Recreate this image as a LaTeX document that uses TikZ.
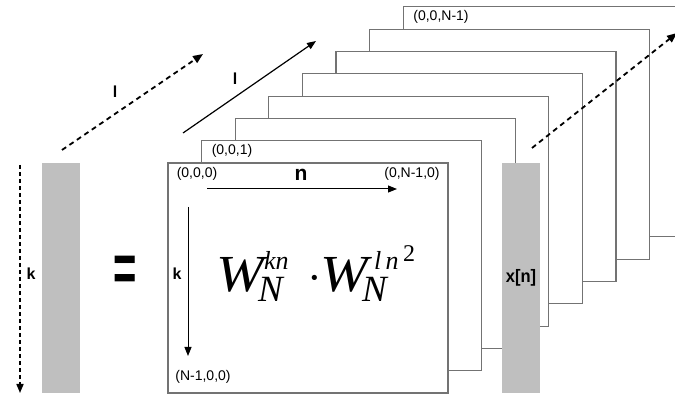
\documentclass[tikz,border=0pt]{standalone}
\usepackage{fontspec}
\setmainfont{Liberation Serif}
\newfontfamily\lsans{Liberation Sans}
\usetikzlibrary{arrows.meta}
\newcommand\putat[3]{\makebox[0pt][l]{\hspace*{#1}\raisebox{#2}{#3}}}
\tikzset{
  frame/.style={draw=black!55, line width=1.1pt, fill=white},
  bar/.style={fill=black!25, draw=none},
  arr/.style={-{Triangle[length=9pt,width=7pt]}, line width=1pt},
  darr/.style={-{Triangle[length=10pt,width=8pt]}, line width=1.8pt, dash pattern=on 5pt off 4pt},
  small/.style={font=\lsans\fontsize{14}{14}\selectfont, inner sep=0pt},
  lbl/.style={font=\lsans\bfseries\fontsize{16}{16}\selectfont, inner sep=0pt},
  eq/.style={inner sep=0pt, anchor=base west}
}
\begin{document}
\begin{tikzpicture}[x=1pt,y=-1pt]
\useasboundingbox (0,0) rectangle (675,395);
\clip (0,0) rectangle (675,395);
% stacked frames, back to front
\foreach \i in {7,6,...,0}{
  \draw[frame] ({168+33.6*\i},{163-22.3*\i}) rectangle ++(280,230);
}
% gray bars
\node[bar, minimum width=38pt, minimum height=230pt, inner sep=0pt] (xn) at (521,278) {};
\node[bar, minimum width=38pt, minimum height=230pt, inner sep=0pt] (y) at (61,278) {};
\node[font=\lsans\bfseries\fontsize{18}{18}\selectfont, inner sep=0pt] (xnl) at (xn.center) {\scalebox{0.92}[1]{x[n]}};
% corner labels
\node[small] (c000) at (197,174) {(0,0,0)};
\node[small] (c001) at (232,151) {(0,0,1)};
\node[small] (c0N0) at (412,174) {(0,N-1,0)};
\node[small] (c00N) at (441,17) {(0,0,N-1)};
\node[small] (cN00) at (203,377) {(N-1,0,0)};
% axis arrows inside front frame
\coordinate (ns) at (207,189); \coordinate (ne) at (397,189);
\draw[arr] (ns) -- (ne);
\node[font=\lsans\bfseries\fontsize{21}{21}\selectfont, inner sep=0pt] (nl) at (301,175) {n};
\coordinate (ks) at (188,207); \coordinate (ke) at (188,356);
\draw[arr] (ks) -- (ke);
\node[lbl] (kl) at (177,274) {k};
% left k arrow
\coordinate (lks) at (20,165); \coordinate (lke) at (20,393);
\draw[-{Triangle[length=9pt,width=7pt]}, line width=1.6pt, dash pattern=on 4pt off 3pt] (lks) -- (lke);
\node[lbl] (kl2) at (31,274) {k};
% equals
\node[font=\lsans\bfseries\fontsize{40}{40}\selectfont, inner sep=0pt] (eqs) at (125,274) {\scalebox{1}[1.7]{=}};
% l arrows
\coordinate (d1s) at (62,150); \coordinate (d1e) at (203,54);
\draw[darr] (d1s) -- (d1e);
\node[lbl] (l1) at (115,92) {l};
\coordinate (s1s) at (183,133); \coordinate (s1e) at (316,41);
\draw[arr, line width=1.2pt] (s1s) -- (s1e);
\node[lbl] (l2) at (235,79) {l};
\coordinate (d2s) at (532,148); \coordinate (d2e) at (677,33);
\draw[darr] (d2s) -- (d2e);
% formula
\node[eq] (formula) at (216,292) {%
  \putat{0pt}{0pt}{\fontsize{52}{52}\selectfont\itshape\scalebox{1.1}[1]{W}}%
  \putat{48pt}{22pt}{\fontsize{26}{26}\selectfont\itshape kn}%
  \putat{42pt}{-10pt}{\fontsize{37}{37}\selectfont\itshape N}%
  \putat{91pt}{-1pt}{\fontsize{44}{44}\selectfont ·}%
  \putat{104pt}{0pt}{\fontsize{52}{52}\selectfont\itshape\scalebox{1.1}[1]{W}}%
  \putat{158pt}{22pt}{\fontsize{26}{26}\selectfont\itshape l\,n}%
  \putat{187pt}{30pt}{\fontsize{24}{24}\selectfont 2}%
  \putat{146pt}{-10pt}{\fontsize{37}{37}\selectfont\itshape N}%
  \hspace*{202pt}};
\end{tikzpicture}
\end{document}
